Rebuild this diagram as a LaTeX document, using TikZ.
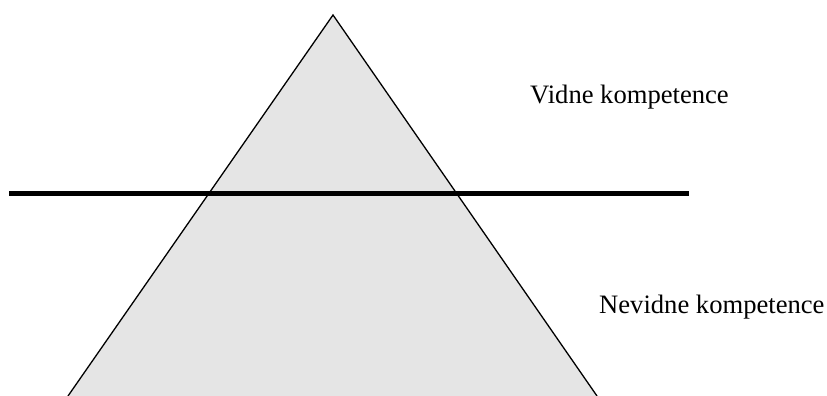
\documentclass[tikz,border=0pt]{standalone}
\usepackage{fontspec}
\setmainfont{Liberation Serif}
\begin{document}
\begin{tikzpicture}[x=1pt,y=-1pt,
  lbl/.style={anchor=base west,inner sep=0pt,font=\fontsize{26.6}{30}\selectfont}]
\useasboundingbox (0,0) rectangle (827,396);
\coordinate (apex) at (333,15);
\coordinate (bl) at (68,396);
\coordinate (br) at (597,396);
\fill[black!10] (bl) -- (apex) -- (br) -- cycle;
\draw[line width=1.3pt] (bl) -- (apex) -- (br);
\coordinate (wl) at (9,193);
\coordinate (wr) at (689,193);
\draw[line width=5pt] (wl) -- (wr);
\node[lbl] (vid) at (530,103) {Vidne kompetence};
\node[lbl] (nev) at (599,313) {Nevidne kompetence};
\end{tikzpicture}
\end{document}
